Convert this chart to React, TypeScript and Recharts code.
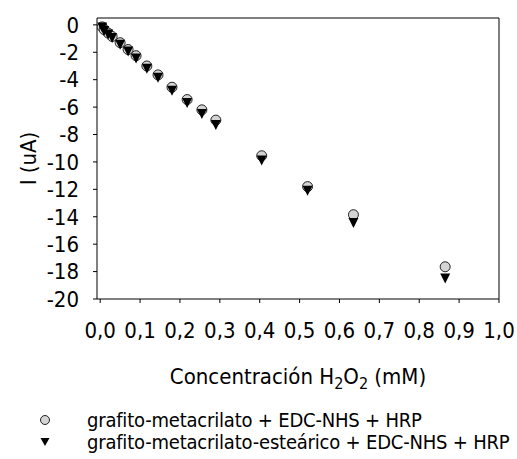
import { ScatterChart, Scatter, XAxis, YAxis, ReferenceLine } from 'recharts';

// concentración H2O2 (mM)
const conc = [0.005, 0.01, 0.02, 0.03, 0.05, 0.07, 0.09, 0.117, 0.145, 0.18, 0.218, 0.255, 0.29, 0.405, 0.52, 0.635, 0.865];
// I (uA)
const metacrilato = [-0.15, -0.35, -0.6, -0.85, -1.3, -1.8, -2.25, -3.0, -3.65, -4.55, -5.45, -6.2, -6.95, -9.55, -11.8, -13.85, -17.65];
const estearico = [-0.2, -0.45, -0.7, -0.95, -1.45, -1.95, -2.45, -3.2, -3.85, -4.8, -5.7, -6.5, -7.3, -9.9, -12.1, -14.45, -18.5];

const xTicks = [0, 0.1, 0.2, 0.3, 0.4, 0.5, 0.6, 0.7, 0.8, 0.9, 1.0];
const yTicks = [0, -2, -4, -6, -8, -10, -12, -14, -16, -18, -20];

const seriesA = conc.map((x, i) => ({ x, y: metacrilato[i] }));
const seriesB = conc.map((x, i) => ({ x, y: estearico[i] }));

const FONT = '"Liberation Sans Narrow", "DejaVu Sans Condensed", "Arial Narrow", sans-serif';

const fmtX = (v: number) => v.toFixed(1).replace('.', ',');

function Circle(props: any) {
  const { cx, cy } = props;
  return <circle cx={cx} cy={cy} r={5} fill="#d4d4d4" stroke="#222" strokeWidth={1} />;
}

function Tri(props: any) {
  const { cx, cy } = props;
  const w = 5, h = 5;
  return <path d={`M${cx - w},${cy - h} L${cx + w},${cy - h} L${cx},${cy + h} Z`} fill="#000" />;
}

function XTitle({ viewBox }: any) {
  const cx = viewBox.x + viewBox.width / 2;
  const y = viewBox.y + 85;
  return (
    <text x={cx} y={y} textAnchor="middle" fontSize={22} fontFamily={FONT} fill="#000">
      Concentración H<tspan fontSize={16} dy={5}>2</tspan>
      <tspan dy={-5}>O</tspan>
      <tspan fontSize={16} dy={5}>2</tspan>
      <tspan dy={-5}> (mM)</tspan>
    </text>
  );
}

const legendRow = { display: 'flex', alignItems: 'center', height: 22 };

export default function App() {
  return (
    <div style={{ position: 'absolute', left: 0, top: 0, width: 517, height: 459, background: '#fff' }}>
      <ScatterChart width={517} height={459} margin={{ top: 18, right: 18, left: 0, bottom: 65 }}>
        <XAxis
          dataKey="x"
          type="number"
          domain={[-0.008, 1.0]}
          ticks={xTicks}
          interval={0}
          tickFormatter={fmtX}
          allowDataOverflow
          height={95}
          stroke="#000"
          tickSize={4}
          tickMargin={19}
          fontSize={22}
          fontFamily={FONT}
          tick={{ fill: '#000' }}
          label={{ content: XTitle }}
        />
        <YAxis
          dataKey="y"
          type="number"
          domain={[-20, 0.5]}
          ticks={yTicks}
          interval={0}
          allowDataOverflow
          width={97}
          stroke="#000"
          tickSize={4}
          tickMargin={14}
          fontSize={22}
          fontFamily={FONT}
          tick={{ fill: '#000' }}
          label={{ value: 'I (uA)', angle: -90, position: 'insideLeft', offset: 28, style: { fontSize: 22, fontFamily: FONT, fill: '#000', textAnchor: 'middle' } }}
        />
        <ReferenceLine y={0.5} stroke="#000" />
        <ReferenceLine x={1.0} stroke="#000" />
        <Scatter data={seriesA} shape={Circle} isAnimationActive={false} />
        <Scatter data={seriesB} shape={Tri} isAnimationActive={false} />
      </ScatterChart>
      <div style={{ position: 'absolute', left: 0, top: 409, width: 517, fontFamily: FONT, fontSize: 20, letterSpacing: -0.2, color: '#000', whiteSpace: 'nowrap' }}>
        <div style={legendRow}>
          <svg width={87} height={22} style={{ flexShrink: 0 }}>
            <circle cx={45} cy={11} r={4.5} fill="#d4d4d4" stroke="#222" strokeWidth={1} />
          </svg>
          <span>grafito-metacrilato + EDC-NHS + HRP</span>
        </div>
        <div style={legendRow}>
          <svg width={87} height={22} style={{ flexShrink: 0 }}>
            <path d="M40.5,7 L49.5,7 L45,15 Z" fill="#000" />
          </svg>
          <span>grafito-metacrilato-esteárico + EDC-NHS + HRP</span>
        </div>
      </div>
    </div>
  );
}
